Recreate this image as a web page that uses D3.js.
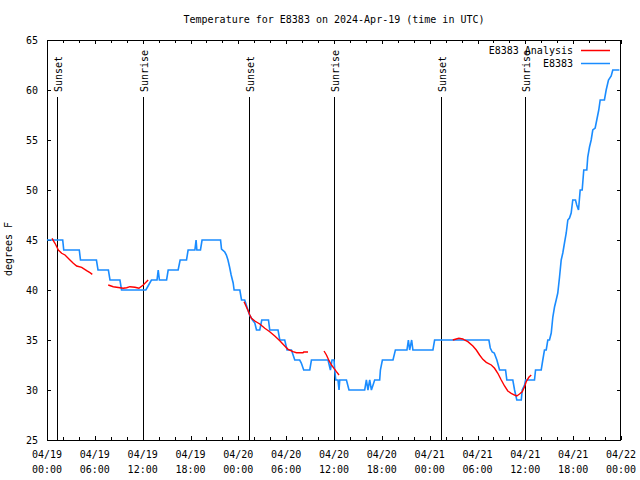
<!DOCTYPE html>
<html><head><meta charset="utf-8">
<script src="https://cdn.jsdelivr.net/npm/d3@7"></script>
<style>body{margin:0;background:#fff}text{font-family:"DejaVu Sans Mono",monospace;font-size:10px;fill:#000}</style>
</head><body>
<script>
// ---- data (hours after 2024-04-19 00:00 UTC) ----
const obsHours = [0,1.97,2.1,4.05,4.2,6.2,6.4,7.7,7.9,9.15,9.35,12.4,12.75,13.1,13.8,13.95,14.1,15.0,15.2,16.45,16.7,17.5,17.7,18.55,18.7,18.8,19.25,19.45,21.77,21.89,22.3,22.5,22.7,22.9,23.1,23.35,23.47,24.19,24.4,24.8,25.0,25.2,25.4,25.78,26.07,26.28,26.69,26.94,27.78,27.94,28.98,29.2,29.82,30.11,30.66,31.08,31.7,31.9,32.2,32.96,33.17,35.25,35.46,35.55,35.75,36.0,36.09,36.22,36.5,36.63,36.72,37.56,37.88,39.85,40.06,40.26,40.48,40.69,40.9,41.1,41.73,41.82,42.07,43.4,43.7,45.15,45.33,45.49,45.74,45.9,48.41,48.62,55.43,55.6,55.85,56.1,56.43,56.77,57.52,57.68,58.43,58.65,58.93,59.49,59.61,59.9,60.03,61.15,61.28,61.99,62.19,62.4,62.62,62.82,63.03,63.25,63.45,63.66,63.87,64.07,64.29,64.5,64.7,64.91,65.13,65.33,65.54,65.75,65.95,66.29,66.45,66.67,66.88,67.13,67.33,67.71,67.83,68.05,68.26,68.46,68.76,68.96,69.21,69.39,69.92,70.14,70.43,70.77,70.97,71.8];
const obsTemps = [45,45,44,44,43,43,42,42,41,41,40,40,40.5,41,41,42,41,41,42,42,43,43,44,44,45,44,44,45,45,44.1,43.8,43.5,43,42.3,41.5,40.7,40,40,39,39,38.5,38,37.5,37,36.7,36,36,37,37,36,36,35,35,34,34,33,33,32.7,32,32,33,33,32.3,32,33,33,32,31,31,30,31,31,30,30,31,30,31,30,30.5,31,31,32,33,33,34,34,35,34,35,34,34,35,35,34.2,33.8,33.7,33,32,32,31,31,30,29,29,30,30.5,31,31,32,32,33,34,34,35,35,35.7,37.3,38.3,39,39.7,41.3,43,43.7,44.7,45.7,47,47.2,47.7,49,49,48.5,48,50,50,52,52,53.3,54.3,55,56,56.2,57,58,59,59,60,61,61.4,62,62];
// analysis series, null = gap
const anaHours = [0.63,1.0,1.22,1.42,1.84,2.26,2.88,3.3,3.72,4.35,4.97,5.39,5.68,null,
  7.68,8.31,9.15,9.56,9.99,10.4,11.03,11.53,12.07,12.69,null,
  24.72,25.03,25.23,25.44,25.65,26.07,26.69,27.32,27.94,28.57,29.2,29.82,30.24,30.86,31.29,32.12,32.2,32.74,null,
  34.75,35.05,35.38,35.68,36.0,36.3,36.63,null,
  50.9,51.33,51.66,52.16,52.36,52.79,53.42,53.85,54.26,54.67,55.1,55.73,56.14,56.55,56.98,57.39,57.8,58.23,58.65,58.93,59.27,59.61,59.9,60.11,60.44,60.74];
const anaTemps = [45.17,44.67,44.33,44,43.67,43.5,43,42.67,42.4,42.27,41.93,41.73,41.57,null,
  40.5,40.33,40.23,40.17,40.23,40.33,40.27,40.17,40.5,41.0,null,
  38.83,38.27,37.93,37.5,37.17,36.9,36.6,36.17,35.83,35.4,34.93,34.4,34.07,33.83,33.73,33.73,33.8,33.8,null,
  33.9,33.5,32.93,32.5,32.17,31.83,31.5,null,
  35.0,35.1,35.17,35.1,35.0,34.83,34.4,34.0,33.5,33.07,32.77,32.5,32.17,31.67,31.0,30.4,29.9,29.67,29.5,29.4,29.6,29.83,30.33,30.83,31.27,31.5];
const sunHours  = [1.3, 12.07, 25.33, 36.0, 49.37, 60.0];
const sunLabels = ["Sunset","Sunrise","Sunset","Sunrise","Sunset","Sunrise"];
const yTicks = [25,30,35,40,45,50,55,60,65];
const seriesNames = ["E8383 Analysis","E8383"];
const seriesColors = ["#ff0000","#1a8cff"];
const titleText = "Temperature for E8383 on 2024-Apr-19 (time in UTC)";
const yLabelText = "degrees F";

// ---- chart ----
const W=640,H=480, L=47, R=621, T=40, B=440;
const base = Date.UTC(2024,3,19,0,0);
const toDate = h => new Date(base + h*3600e3);
const x = d3.scaleUtc().domain([toDate(0), toDate(72)]).range([L,R]);
const y = d3.scaleLinear().domain([25,65]).range([B,T]);

const svg = d3.select("body").append("svg").attr("width",W).attr("height",H);

svg.append("text").attr("x",(L+R)/2).attr("y",23).attr("text-anchor","middle").text(titleText);

// border
svg.append("rect").attr("x",L+0.5).attr("y",T+0.5).attr("width",R-L-1).attr("height",B-T)
  .attr("fill","none").attr("stroke","#000").attr("shape-rendering","crispEdges");

// x ticks (major 6h, minor 2h), inward, mirrored at top
const minorT = d3.utcHour.every(2).range(toDate(0), toDate(72.01));
minorT.forEach(d=>{
  const xx = Math.round(x(d))+0.5;
  const major = d.getUTCHours()%6===0;
  const len = major?4:3;
  svg.append("line").attr("x1",xx).attr("x2",xx).attr("y1",B).attr("y2",B-len).attr("stroke","#000");
  svg.append("line").attr("x1",xx).attr("x2",xx).attr("y1",T).attr("y2",T+len).attr("stroke","#000");
});
const fmtD = d3.utcFormat("%m/%d"), fmtT = d3.utcFormat("%H:%M");
d3.utcHour.every(6).range(toDate(0), toDate(72.01)).forEach(d=>{
  svg.append("text").attr("x",x(d)).attr("y",458).attr("text-anchor","middle").text(fmtD(d));
  svg.append("text").attr("x",x(d)).attr("y",473).attr("text-anchor","middle").text(fmtT(d));
});
// y ticks
yTicks.forEach(v=>{
  const yy = Math.round(y(v))+0.5;
  svg.append("line").attr("x1",L).attr("x2",L+4).attr("y1",yy).attr("y2",yy).attr("stroke","#000");
  svg.append("line").attr("x1",R).attr("x2",R-4).attr("y1",yy).attr("y2",yy).attr("stroke","#000");
  svg.append("text").attr("x",38).attr("y",y(v)+4).attr("text-anchor","end").text(v);
});
svg.append("text").attr("transform","translate(12,249) rotate(-90)").attr("text-anchor","middle").text(yLabelText);

// sun lines
sunHours.forEach((h,i)=>{
  const xx = Math.round(x(toDate(h)))+0.5;
  svg.append("line").attr("x1",xx).attr("x2",xx).attr("y1",97).attr("y2",B).attr("stroke","#000");
  svg.append("text").attr("transform",`translate(${xx+4},92) rotate(-90)`).attr("text-anchor","start").text(sunLabels[i]);
});

// series
const obs = obsHours.map((h,i)=>({d:toDate(h),v:obsTemps[i]}));
const ana = anaHours.map((h,i)=>({d:h==null?null:toDate(h),v:anaTemps[i]}));
const line = d3.line().defined(p=>p.d!=null&&p.v!=null).x(p=>x(p.d)).y(p=>y(p.v));
svg.append("path").datum(obs).attr("d",line).attr("fill","none").attr("stroke",seriesColors[1]).attr("stroke-width",1.6);
svg.append("path").datum(ana).attr("d",line).attr("fill","none").attr("stroke",seriesColors[0]).attr("stroke-width",1.4);

// legend
seriesNames.forEach((n,i)=>{
  const yy = 50 + i*13;
  svg.append("text").attr("x",573).attr("y",yy+4).attr("text-anchor","end").text(n);
  svg.append("line").attr("x1",581).attr("x2",610).attr("y1",yy+0.5).attr("y2",yy+0.5).attr("stroke",seriesColors[i]).attr("stroke-width",1.5);
});
</script>
</body></html>
